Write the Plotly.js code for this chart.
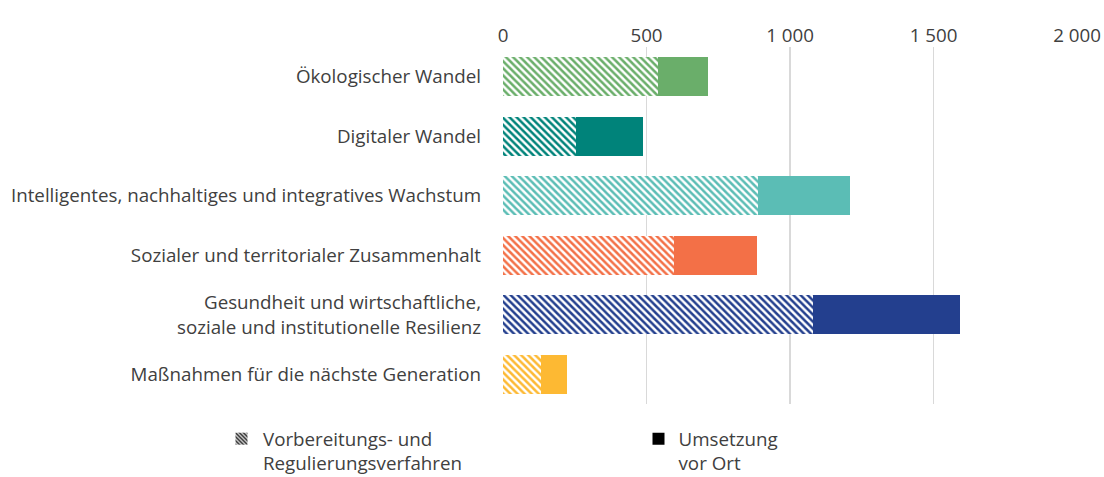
<!DOCTYPE html>
<html><head><meta charset="utf-8">
<script src="https://cdn.plot.ly/plotly-3.0.1.min.js"></script>
<style>html,body{margin:0;padding:0;background:#fff}#chart{width:1104px;height:477px}</style>
</head><body><div id="chart"></div>
<script>
const categories = [
  "Ökologischer Wandel",
  "Digitaler Wandel",
  "Intelligentes, nachhaltiges und integratives Wachstum",
  "Sozialer und territorialer Zusammenhalt",
  "Gesundheit und wirtschaftliche,<br>soziale und institutionelle Resilienz",
  "Maßnahmen für die nächste Generation"
];
const vorbereitung = [539, 256, 890, 597, 1080, 133];
const umsetzung = [175, 231, 318, 287, 513, 90];
const colors = ["#6aae6a", "#00837a", "#5bbdb5", "#f37047", "#233f8e", "#fdb933"];
const tickVals = [0, 500, 1000, 1500, 2000];
const tickText = ["0", "500", "1 000", "1 500", "2 000"];
const legendNames = ["Vorbereitungs- und<br>Regulierungsverfahren", "Umsetzung<br>vor Ort"];

const font = "'Open Sans', sans-serif";
const fs = 18.75;
const traces = [
  {type:'bar', orientation:'h', y:categories, x:vorbereitung, showlegend:false, hoverinfo:'x',
   marker:{color:'#ffffff', line:{width:0}, pattern:{shape:'\\', fgcolor:colors, bgcolor:'#ffffff', size:5, solidity:0.5, fillmode:'replace'}}},
  {type:'bar', orientation:'h', y:categories, x:umsetzung, showlegend:false, hoverinfo:'x',
   marker:{color:colors, line:{width:0}}},
  {type:'bar', orientation:'h', y:[null], x:[null], name:legendNames[0], showlegend:true, legend:'legend',
   marker:{color:'#ffffff', line:{width:0}, pattern:{shape:'\\', fgcolor:'#000000', bgcolor:'#ffffff', size:3.5, solidity:0.5}}},
  {type:'bar', orientation:'h', y:[null], x:[null], name:legendNames[1], showlegend:true, legend:'legend2',
   marker:{color:'#000000', line:{width:0}}}
];
const legendCommon = {orientation:'v', xref:'container', yref:'container', xanchor:'left', yanchor:'top',
          valign:'top', font:{family:font, size:fs, color:'#404040'}, bgcolor:'rgba(0,0,0,0)'};
const layout = {
  width:1104, height:477,
  margin:{l:503, r:27, t:47, b:73, pad:0, autoexpand:false},
  barmode:'stack', bargap:0.34,
  paper_bgcolor:'#ffffff', plot_bgcolor:'#ffffff',
  font:{family:font, size:fs, color:'#404040'},
  showlegend:true,
  legend:Object.assign({}, legendCommon, {x:220/1104, y:1-420/477, itemwidth:33}),
  legend2:Object.assign({}, legendCommon, {x:638.5/1104, y:1-420/477, itemwidth:30}),
  xaxis:{side:'top', range:[0,2000], tickvals:tickVals, ticktext:tickText, showgrid:true, gridcolor:'#d9d9d9', gridwidth:1.5,
         zeroline:false, showline:false, ticks:'', ticklabelstandoff:0, tickfont:{family:font, size:fs, color:'#404040'}, fixedrange:true},
  yaxis:{type:'category', autorange:'reversed', showgrid:false, zeroline:false, showline:false, ticks:'', ticklabelstandoff:21,
         tickfont:{family:font, size:fs, color:'#404040'}, fixedrange:true}
};
Plotly.newPlot('chart', traces, layout, {displayModeBar:false, staticPlot:true});
</script></body></html>
